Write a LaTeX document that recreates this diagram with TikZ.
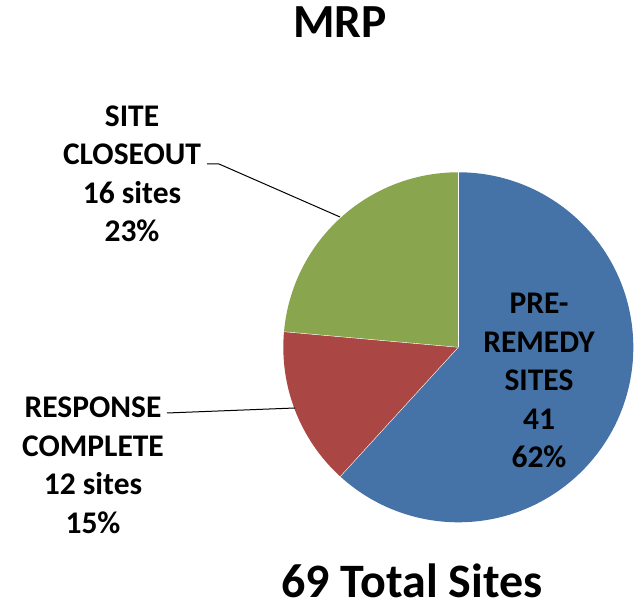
\documentclass[tikz,border=0pt]{standalone}
\usepackage{fontspec}
\setmainfont{Carlito}
\usepackage{xcolor}
\usepackage{tikz}
\definecolor{preblue}{HTML}{4572A7}
\definecolor{respred}{HTML}{AA4643}
\definecolor{closegreen}{HTML}{89A54E}

\begin{document}
\begin{tikzpicture}[x=1pt,y=1pt, every node/.style={font=\bfseries\fontsize{31.5}{38.5}\selectfont,align=center,inner sep=0pt}]
					\useasboundingbox (0,0) rectangle (635,607);
					\coordinate (c) at (458.3,259.7);
					\coordinate (k1) at (207,443);
					\coordinate (k2) at (219,443);
					\coordinate (k3) at (340,390);
					\coordinate (r1) at (167,194);
					\coordinate (r2) at (295,199);
					
					\fill[color=preblue] (c) -- ++(90:175) arc (90:-132.4:175) -- cycle;
					\fill[color=respred] (c) -- ++(227.6:175) arc (227.6:174.9:175) -- cycle;
					\fill[color=closegreen] (c) -- ++(174.9:175) arc (174.9:90:175) -- cycle;
					\draw[color=white,line width=0.4pt] (c) -- ++(90:175);
					\draw[color=white,line width=0.4pt] (c) -- ++(227.6:175);
					\draw[color=white,line width=0.4pt] (c) -- ++(174.9:175);
					
					\draw[color=black,line width=1pt] (k1) -- (k2) -- (k3);
					\draw[color=black,line width=1pt] (r1) -- (r2);
					
					\node (title) at (340,569) [anchor=base,font=\bfseries\fontsize{47.5}{50}\selectfont] {MRP};
					\node (total) at (412,9) [anchor=base,font=\bfseries\fontsize{48}{52}\selectfont] {69 Total Sites};
					\node (lclose) at (132,433) {SITE\\CLOSEOUT\\16 sites\\23\%};
					\node (lresp) at (93,141.5) {RESPONSE\\COMPLETE\\12 sites\\15\%};
					\node (lpre) at (539,226.5) {PRE-\\REMEDY\\SITES\\41\\62\%};
				\end{tikzpicture}
\end{document}
